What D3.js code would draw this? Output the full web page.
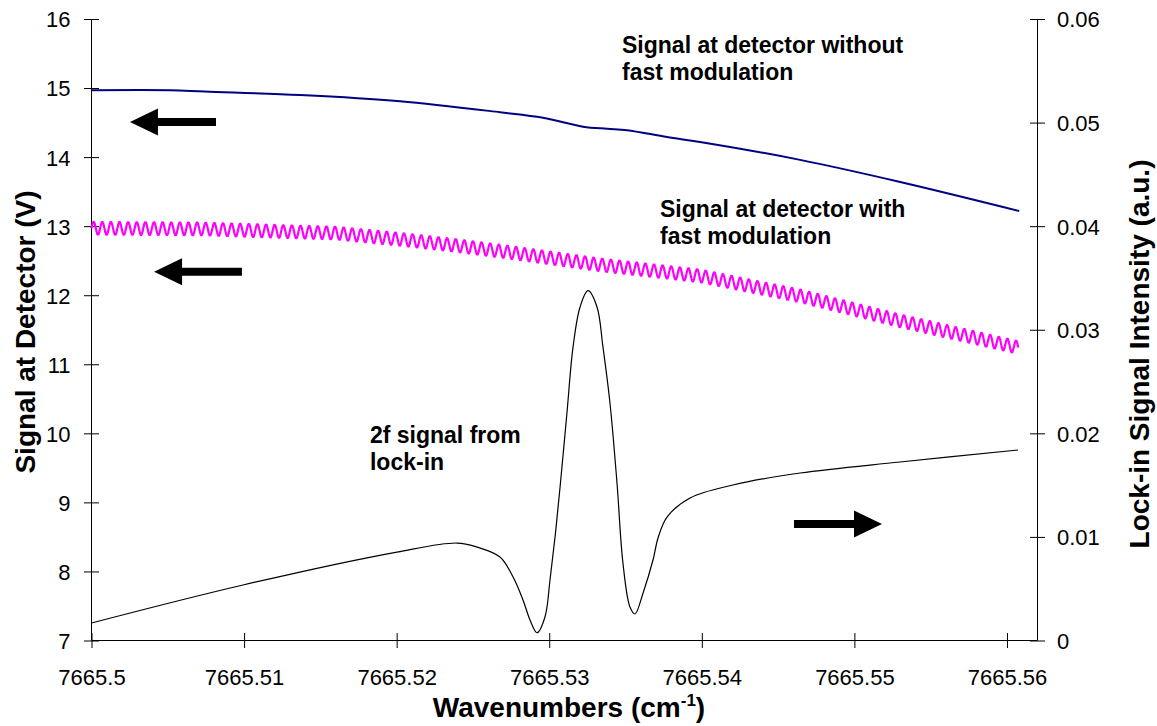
<!DOCTYPE html>
<html>
<head>
<meta charset="utf-8">
<script src="https://cdn.jsdelivr.net/npm/d3@7"></script>
<style>
  html, body { margin: 0; padding: 0; background: #fff; }
  svg { display: block; }
  text { font-family: "Liberation Sans", Arial, Helvetica, sans-serif; fill: #000; }
</style>
</head>
<body>
<svg id="chart" width="1157" height="726"></svg>
<script>
// ---------- data ----------
const xTicks = [7665.5, 7665.51, 7665.52, 7665.53, 7665.54, 7665.55, 7665.56];
const xTickLabels = ["7665.5", "7665.51", "7665.52", "7665.53", "7665.54", "7665.55", "7665.56"];
const leftTicks = [7, 8, 9, 10, 11, 12, 13, 14, 15, 16];
const leftTickLabels = ["7", "8", "9", "10", "11", "12", "13", "14", "15", "16"];
const rightTicks = [0, 0.01, 0.02, 0.03, 0.04, 0.05, 0.06];
const rightTickLabels = ["0", "0.01", "0.02", "0.03", "0.04", "0.05", "0.06"];

// Signal at detector without fast modulation (V, left axis)
const blueX = [7665.5, 7665.50514, 7665.50742, 7665.51367, 7665.52022, 7665.52677, 7665.52959,
               7665.53221, 7665.53379, 7665.53510, 7665.53772, 7665.53988, 7665.54644, 7665.55300, 7665.56080];
const blueY = [14.97, 14.97, 14.95, 14.90, 14.81, 14.65, 14.57,
               14.44, 14.41, 14.39, 14.29, 14.22, 13.96, 13.64, 13.22];

// Signal at detector with fast modulation: mean level (V, left axis)
const magX = [7665.5, 7665.50711, 7665.51596, 7665.52022, 7665.52350, 7665.52677, 7665.53333,
              7665.53988, 7665.54644, 7665.55299, 7665.56079];
const magY = [12.97, 12.96, 12.90, 12.81, 12.73, 12.64, 12.44,
              12.28, 11.99, 11.63, 11.24];
// modulation ripple
const magRippleAmp = 0.095;       // V
const magRipplePeriod = 0.000565; // cm-1

// 2f signal from lock-in (a.u., right axis)
const lockX = [7665.5, 7665.50993, 7665.52002, 7665.52396, 7665.52527, 7665.52677, 7665.52763,
               7665.52828, 7665.52874, 7665.52920, 7665.52972, 7665.53005, 7665.53038, 7665.53071,
               7665.53116, 7665.53156, 7665.53202, 7665.53254, 7665.53313, 7665.53352, 7665.53398,
               7665.53444, 7665.53483, 7665.53529, 7665.53562, 7665.53615, 7665.53680, 7665.53713,
               7665.53772, 7665.53923, 7665.54204, 7665.54644, 7665.55299, 7665.56072];
const lockY = [0.00169, 0.00536, 0.00854, 0.00941, 0.00902, 0.00806, 0.00613,
               0.00391, 0.00198, 0.00075, 0.00227, 0.00584, 0.00999, 0.01482,
               0.02196, 0.02834, 0.03220, 0.03377, 0.03220, 0.02834, 0.02293,
               0.01521, 0.00748, 0.00323, 0.00256, 0.00459, 0.00777, 0.00990,
               0.01192, 0.01376, 0.01501, 0.01617, 0.01723, 0.01839];

// annotations
const labelTexts = [["Signal at detector without", "fast modulation"],
                    ["Signal at detector with", "fast modulation"],
                    ["2f signal from", "lock-in"]];
const labelX = [7665.53477, 7665.53726, 7665.51825];
const labelY = [15.51, 13.13, 9.86]; // left-axis units (baseline of first line)
// arrows: [tailX, tipX, y, axis]
const arrowTail = [7665.50816, 7665.50986, 7665.54604];
const arrowTip  = [7665.50252, 7665.50410, 7665.55181];
const arrowY    = [14.51, 12.34, 0.01125];
const arrowAxis = ["left", "left", "right"];

// ---------- layout ----------
const svg = d3.select("#chart");
const X0 = 91.5, X1 = 1037.5, Y0 = 640.5, Y1 = 19;

const x = d3.scaleLinear().domain([7665.5, 7665.562]).range([X0, X1]);
const yL = d3.scaleLinear().domain([7, 16]).range([Y0, Y1]);
const yR = d3.scaleLinear().domain([0, 0.06]).range([Y0, Y1]);

const tickFont = "22px";
const T = 7.5;

// bottom axis
const gx = svg.append("g").attr("transform", `translate(0,${Y0})`)
  .call(d3.axisBottom(x).tickValues(xTicks).tickFormat((d, i) => xTickLabels[i]).tickSize(T).tickSizeOuter(0).tickPadding(0));
gx.select(".domain").attr("stroke", "#000").attr("d", `M${X0},0H${X1}`);
gx.selectAll(".tick line").attr("y1", -T).attr("y2", T).attr("stroke", "#000");
gx.selectAll(".tick text").attr("y", 44).attr("dy", 0).style("font-size", tickFont)
  .style("font-family", "'Liberation Sans', Arial, sans-serif").attr("fill", "#000");

// left axis
const gl = svg.append("g").attr("transform", `translate(${X0},0)`)
  .call(d3.axisLeft(yL).tickValues(leftTicks).tickFormat((d, i) => leftTickLabels[i]).tickSize(T).tickSizeOuter(0));
gl.select(".domain").attr("stroke", "#000").attr("d", `M0,${Y0}V${Y1}`);
gl.selectAll(".tick line").attr("x1", -T).attr("x2", T).attr("stroke", "#000");
gl.selectAll(".tick text").attr("x", -21).attr("dy", "0.36em").style("font-size", tickFont)
  .style("font-family", "'Liberation Sans', Arial, sans-serif").attr("fill", "#000");

// right axis
const gr = svg.append("g").attr("transform", `translate(${X1},0)`)
  .call(d3.axisRight(yR).tickValues(rightTicks).tickFormat((d, i) => rightTickLabels[i]).tickSize(T).tickSizeOuter(0));
gr.select(".domain").attr("stroke", "#000").attr("d", `M0,${Y0}V${Y1}`);
gr.selectAll(".tick line").attr("x1", -T).attr("x2", T).attr("stroke", "#000");
gr.selectAll(".tick text").attr("x", 19.5).attr("dy", "0.36em").style("font-size", tickFont)
  .style("font-family", "'Liberation Sans', Arial, sans-serif").attr("fill", "#000");

// axis titles
const titleFont = "28px";
const xt = svg.append("text").attr("x", 569).attr("y", 717)
  .attr("text-anchor", "middle").style("font-size", titleFont).style("font-weight", "bold");
xt.append("tspan").text("Wavenumbers (cm");
xt.append("tspan").text("-1").attr("dy", -11).style("font-size", "17px");
xt.append("tspan").text(")").attr("dy", 11);

svg.append("text").attr("transform", `translate(35,332) rotate(-90)`)
  .attr("text-anchor", "middle").style("font-size", titleFont).style("font-weight", "bold")
  .text("Signal at Detector (V)");
svg.append("text").attr("transform", `translate(1149,354) rotate(-90)`)
  .attr("text-anchor", "middle").style("font-size", titleFont).style("font-weight", "bold")
  .text("Lock-in Signal Intensity (a.u.)");

// ---------- series ----------
const blueData = blueX.map((v, i) => [v, blueY[i]]);
const lockData = lockX.map((v, i) => [v, lockY[i]]);

// magenta: mean level plus the modulation ripple seen in the trace
const magMean = d3.scaleLinear().domain(magX).range(magY);
const magData = [];
const step = magRipplePeriod / 10;
for (let xv = magX[0]; xv <= magX[magX.length - 1] + 1e-9; xv += step) {
  magData.push([xv, magMean(xv) + magRippleAmp * Math.sin(2 * Math.PI * (xv - magX[0]) / magRipplePeriod)]);
}

const lineL = d3.line().x(d => x(d[0])).y(d => yL(d[1])).curve(d3.curveCatmullRom.alpha(0.5));
const lineLraw = d3.line().x(d => x(d[0])).y(d => yL(d[1]));
const lineR = d3.line().x(d => x(d[0])).y(d => yR(d[1])).curve(d3.curveCatmullRom.alpha(0.5));

svg.append("path").datum(blueData).attr("d", lineL)
  .attr("fill", "none").attr("stroke", "#000080").attr("stroke-width", 2);
svg.append("path").datum(magData).attr("d", lineLraw)
  .attr("fill", "none").attr("stroke", "#FF00FF").attr("stroke-width", 2.2).attr("stroke-linejoin", "round");
svg.append("path").datum(lockData).attr("d", lineR)
  .attr("fill", "none").attr("stroke", "#000").attr("stroke-width", 1.2);

// ---------- annotations ----------
labelTexts.forEach((lines, i) => {
  const t = svg.append("text").attr("x", x(labelX[i])).attr("y", yL(labelY[i]))
    .style("font-size", "23px").style("font-weight", "bold");
  lines.forEach((s, j) => t.append("tspan").attr("x", x(labelX[i])).attr("dy", j === 0 ? 0 : 27).text(s));
});

arrowTail.forEach((tv, i) => {
  const ys = arrowAxis[i] === "left" ? yL : yR;
  const xa = x(tv), xb = x(arrowTip[i]), yy = ys(arrowY[i]);
  const dir = Math.sign(xb - xa);
  const headLen = 28, headHalf = 13.5, shaftHalf = 4;
  const xh = xb - dir * headLen;
  const pts = [[xa, yy - shaftHalf], [xh, yy - shaftHalf], [xh, yy - headHalf], [xb, yy],
               [xh, yy + headHalf], [xh, yy + shaftHalf], [xa, yy + shaftHalf]];
  svg.append("path").attr("d", "M" + pts.map(p => p.join(",")).join("L") + "Z").attr("fill", "#000");
});
</script>
</body>
</html>
